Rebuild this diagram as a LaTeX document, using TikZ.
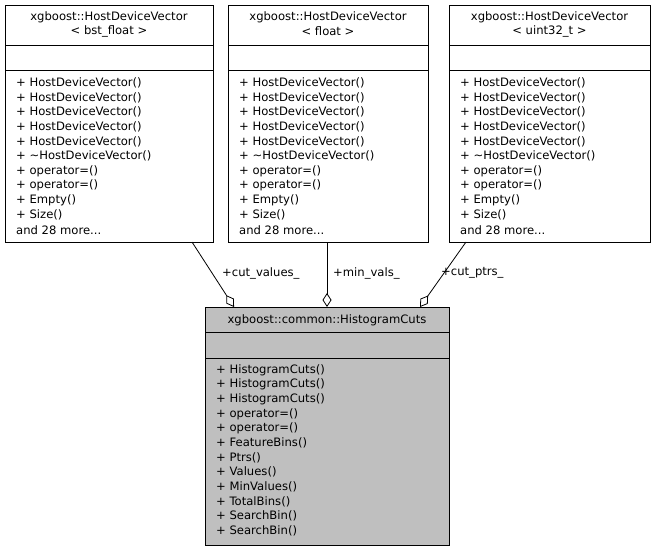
\documentclass[tikz,border=0pt]{standalone}
\usepackage{fontspec}
\setmainfont{DejaVu Sans}
\usetikzlibrary{arrows.meta}
\begin{document}
\begin{tikzpicture}[x=1pt,y=-1pt,
  box/.style={draw,line width=0.8pt,anchor=north west,inner sep=0pt},
  txt/.style={font=\fontsize{11.6}{13}\selectfont,inner sep=0pt},
  agg/.style={draw,line width=0.8pt,{Diamond[open,length=14pt,width=9pt]}-}]
\useasboundingbox (0,0) rectangle (655,551);

%%%% top classes
%%%%
\foreach \n/\x/\w/\arg in {a/5/208/bst\_float,b/228/200/float,c/449/201/uint32\_t}{
\node[box,minimum width=\w pt,minimum height=237pt](\n) at(\x,5) {};
\draw[line width=0.8pt] (\x,45) -- ++(\w,0);
\draw[line width=0.8pt] (\x,70) -- ++(\w,0);
\node[txt](\n t1) at(\x+\w/2,17) {xgboost::HostDeviceVector};
\node[txt](\n t2) at(\x+\w/2,31) {< \arg\ >};
\foreach[count=\i] \m in {HostDeviceVector(),HostDeviceVector(),HostDeviceVector(),
HostDeviceVector(),HostDeviceVector(),\textasciitilde HostDeviceVector(),operator=(),
operator=(),Empty(),Size()}{
\node[txt,anchor=west](\n m\i) at(\x+11,68+14.7*\i) {+ \m};
}
\node[txt,anchor=west](\n m11) at(\x+11,229.7) {and 28 more...};
}

%%%% histogram cuts
%%%%
\node[box,fill=black!25,minimum width=244pt,minimum height=238pt](h) at(205,307) {};
\draw[line width=0.8pt] (205,332) -- (449,332);
\draw[line width=0.8pt] (205,358) -- (449,358);
\node[txt](ht) at(327,320) {xgboost::common::HistogramCuts};
\foreach[count=\i] \m in {HistogramCuts(),HistogramCuts(),HistogramCuts(),operator=(),
operator=(),FeatureBins(),Ptrs(),Values(),MinValues(),TotalBins(),SearchBin(),SearchBin()}{
\node[txt,anchor=west](hm\i) at(216,355.5+14.6*\i) {+ \m};
}

%%%% members
%%%%
\coordinate(da) at(234,307);
\coordinate(db) at(327,307);
\coordinate(dc) at(420,307);
\coordinate(ea) at(192,242);
\coordinate(eb) at(327,242);
\coordinate(ec) at(466,242);
\draw[agg] (da) -- (ea);
\draw[agg] (db) -- (eb);
\draw[agg] (dc) -- (ec);
\node[txt,anchor=west](la) at(222,273) {+cut\_values\_};
\node[txt,anchor=west](lb) at(333,273) {+min\_vals\_};
\node[txt,anchor=west](lc) at(441,273) {+cut\_ptrs\_};
\end{tikzpicture}
\end{document}
